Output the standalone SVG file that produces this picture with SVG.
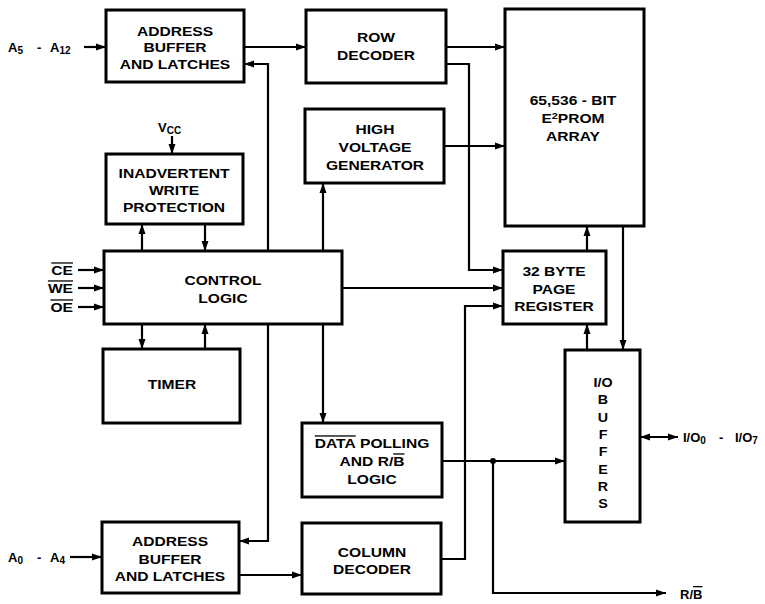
<svg xmlns="http://www.w3.org/2000/svg" width="765" height="604" viewBox="0 0 765 604">
<style>
.box{fill:#fff;stroke:#000;stroke-width:3}
.w{fill:none;stroke:#000;stroke-width:2.2;stroke-linejoin:miter}
.a{marker-end:url(#ah)}
.b{marker-start:url(#ah);marker-end:url(#ah)}
text{font-family:"Liberation Sans",Arial,sans-serif;font-weight:bold;font-size:13px;fill:#000}
.c{text-anchor:middle}
.e{text-anchor:end}
.ov{text-decoration:overline}
</style>
<defs>
<marker id="ah" viewBox="0 0 10 8" refX="10" refY="4" markerWidth="10" markerHeight="8" markerUnits="userSpaceOnUse" orient="auto-start-reverse">
<path d="M0,0.5 L10,4 L0,7.5 z" fill="#000"/>
</marker>
</defs>
<rect width="765" height="604" fill="#fff"/>

<g id="connectors">
<!-- inputs -->
<line class="w a" x1="84" y1="47" x2="106" y2="47"/>
<line class="w a" x1="70" y1="557" x2="102" y2="557"/>
<line class="w a" x1="78" y1="270" x2="104" y2="270"/>
<line class="w a" x1="78" y1="288" x2="104" y2="288"/>
<line class="w a" x1="78" y1="307" x2="104" y2="307"/>
<line class="w a" x1="172" y1="136" x2="172" y2="154"/>
<!-- address buffer top -> row decoder -->
<line class="w a" x1="244" y1="47" x2="306" y2="47"/>
<!-- control logic -> address buffers -->
<polyline class="w a" points="268,251 268,64 244,64"/>
<polyline class="w a" points="268,324 268,541 239,541"/>
<!-- row decoder -> array -->
<line class="w a" x1="446" y1="47" x2="505" y2="47"/>
<polyline class="w a" points="446,64 469,64 469,270 503,270"/>
<!-- HV -> array -->
<line class="w a" x1="444" y1="146" x2="505" y2="146"/>
<!-- control logic <-> HV, data polling -->
<line class="w a" x1="323" y1="251" x2="323" y2="183"/>
<line class="w a" x1="323" y1="324" x2="323" y2="423"/>
<!-- control logic <-> inadvertent -->
<line class="w a" x1="142" y1="251" x2="142" y2="224"/>
<line class="w a" x1="205" y1="224" x2="205" y2="251"/>
<!-- control logic <-> timer -->
<line class="w a" x1="142" y1="324" x2="142" y2="349"/>
<line class="w a" x1="205" y1="349" x2="205" y2="324"/>
<!-- control logic -> page register -->
<line class="w a" x1="342" y1="288" x2="503" y2="288"/>
<!-- column decoder -> page register -->
<polyline class="w a" points="441,559 465,559 465,306 503,306"/>
<!-- address buffer bottom -> column decoder -->
<line class="w a" x1="239" y1="575" x2="302" y2="575"/>
<!-- page register -> array, I/O -> page register -->
<line class="w a" x1="587" y1="251" x2="587" y2="226"/>
<line class="w a" x1="587" y1="350" x2="587" y2="324"/>
<!-- array -> I/O -->
<line class="w a" x1="623" y1="226" x2="623" y2="350"/>
<!-- data polling -> I/O and R/B -->
<line class="w a" x1="442" y1="461" x2="565" y2="461"/>
<polyline class="w a" points="493,461 493,593 666,593"/>
<circle cx="493" cy="461" r="3" fill="#000"/>
<!-- I/O bus -->
<line class="w b" x1="640" y1="437" x2="678" y2="437"/>
</g>

<g id="addr-top">
<rect class="box" x="106" y="10" width="138" height="72"/>
<text class="c" transform="translate(175 0) scale(1.2 1)"><tspan x="0" y="36">ADDRESS</tspan><tspan x="0" y="52">BUFFER</tspan><tspan x="0" y="69">AND LATCHES</tspan></text>
</g>
<g id="row-decoder">
<rect class="box" x="306" y="10" width="140" height="73"/>
<text class="c" transform="translate(376 0) scale(1.2 1)"><tspan x="0" y="42">ROW</tspan><tspan x="0" y="60">DECODER</tspan></text>
</g>
<g id="hv-gen">
<rect class="box" x="305" y="109" width="139" height="74"/>
<text class="c" transform="translate(375 0) scale(1.2 1)"><tspan x="0" y="134">HIGH</tspan><tspan x="0" y="152">VOLTAGE</tspan><tspan x="0" y="170">GENERATOR</tspan></text>
</g>
<g id="array">
<rect class="box" x="505" y="9" width="139" height="217"/>
<text class="c" transform="translate(573 0) scale(1.2 1)"><tspan x="0" y="105">65,536 - BIT</tspan><tspan x="0" y="123">E<tspan font-size="9" dy="-4">2</tspan><tspan dy="4">PROM</tspan></tspan><tspan x="0" y="141">ARRAY</tspan></text>
</g>
<g id="page-register">
<rect class="box" x="503" y="251" width="103" height="73"/>
<text class="c" transform="translate(554 0) scale(1.2 1)"><tspan x="0" y="276">32 BYTE</tspan><tspan x="0" y="294">PAGE</tspan><tspan x="0" y="311">REGISTER</tspan></text>
</g>
<g id="vcc">
<text x="158" y="132">V<tspan font-size="10" dy="2">CC</tspan></text>
</g>
<g id="inadvertent">
<rect class="box" x="106" y="154" width="137" height="70"/>
<text class="c" transform="translate(174 0) scale(1.2 1)"><tspan x="0" y="178">INADVERTENT</tspan><tspan x="0" y="195">WRITE</tspan><tspan x="0" y="212">PROTECTION</tspan></text>
</g>
<g id="control-logic">
<rect class="box" x="104" y="251" width="238" height="73"/>
<text class="c" transform="translate(223 0) scale(1.2 1)"><tspan x="0" y="285">CONTROL</tspan><tspan x="0" y="303">LOGIC</tspan></text>
</g>
<g id="inputs">
<text class="e ov" transform="translate(73 275) scale(1.2 1)">CE</text>
<text class="e ov" transform="translate(73 293) scale(1.2 1)">WE</text>
<text class="e ov" transform="translate(73 312) scale(1.2 1)">OE</text>
</g>
<g id="timer">
<rect class="box" x="103" y="349" width="137" height="74"/>
<text class="c" transform="translate(172 389) scale(1.2 1)">TIMER</text>
</g>
<g id="data-polling">
<rect class="box" x="302" y="423" width="140" height="74"/>
<text class="c" transform="translate(372 0) scale(1.2 1)"><tspan x="0" y="448"><tspan class="ov">DATA</tspan> POLLING</tspan><tspan x="0" y="466">AND R/<tspan class="ov">B</tspan></tspan><tspan x="0" y="484">LOGIC</tspan></text>
</g>
<g id="column-decoder">
<rect class="box" x="302" y="523" width="139" height="71"/>
<text class="c" transform="translate(372 0) scale(1.2 1)"><tspan x="0" y="557">COLUMN</tspan><tspan x="0" y="574">DECODER</tspan></text>
</g>
<g id="addr-bottom">
<rect class="box" x="102" y="522" width="137" height="71"/>
<text class="c" transform="translate(170 0) scale(1.2 1)"><tspan x="0" y="546">ADDRESS</tspan><tspan x="0" y="564">BUFFER</tspan><tspan x="0" y="581">AND LATCHES</tspan></text>
</g>
<g id="io-buffers">
<rect class="box" x="565" y="350" width="75" height="172"/>
<text class="c" transform="translate(603 0) scale(1.1 1)"><tspan x="0" y="387">I/O</tspan><tspan x="0" y="404">B</tspan><tspan x="0" y="422">U</tspan><tspan x="0" y="439">F</tspan><tspan x="0" y="456">F</tspan><tspan x="0" y="474">E</tspan><tspan x="0" y="491">R</tspan><tspan x="0" y="508">S</tspan></text>
</g>
<g id="labels">
<text y="52"><tspan x="8">A</tspan><tspan font-size="10" dy="2">5</tspan><tspan x="37" dy="-2">-</tspan><tspan x="50">A</tspan><tspan font-size="10" dy="2">12</tspan></text>
<text y="562"><tspan x="8">A</tspan><tspan font-size="10" dy="2">0</tspan><tspan x="37" dy="-2">-</tspan><tspan x="50">A</tspan><tspan font-size="10" dy="2">4</tspan></text>
<text y="442"><tspan x="683">I/O</tspan><tspan font-size="10" dy="2">0</tspan><tspan x="719" dy="-2">-</tspan><tspan x="735">I/O</tspan><tspan font-size="10" dy="2">7</tspan></text>
<text x="680" y="599">R/<tspan class="ov">B</tspan></text>
</g>
</svg>
